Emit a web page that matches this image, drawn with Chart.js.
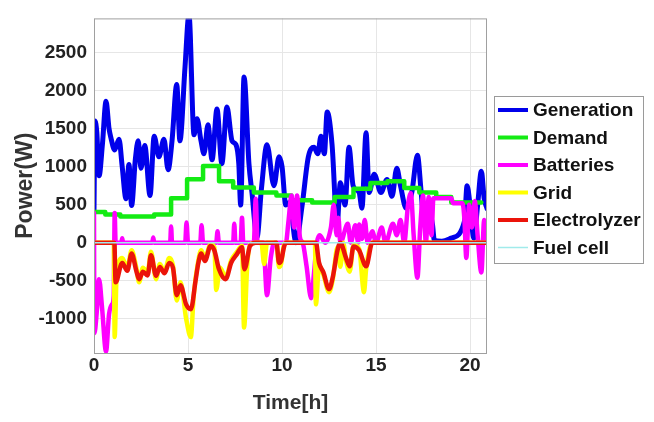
<!DOCTYPE html>
<html lang="en">
<head>
    <meta charset="UTF-8">
    <title>Power(W) vs Time[h]</title>
    <script src="https://cdn.jsdelivr.net/npm/chart.js@4.4.1/dist/chart.umd.min.js"></script>
    <style>
        body {
            margin: 0;
            background-color: white;
        }
        #chartContainer {
            width: 654px;
            height: 422px;
        }
    </style>
</head>
<body>
    <div id="chartContainer">
        <canvas id="powerChart"></canvas>
    </div>

    <script>
        // series values: time [h] and power [W]
        const genT = [0, 0.05, 0.15, 0.27, 0.45, 0.64, 0.8, 0.9, 1.1, 1.33, 1.5, 1.7, 1.86, 2.0, 2.2, 2.35, 2.5, 2.7, 2.98, 3.2, 3.45, 3.72, 3.94, 4.15, 4.4, 4.57, 4.84, 5.05, 5.32, 5.48, 5.69, 5.85, 6.06, 6.28, 6.54, 6.8, 7.07, 7.34, 7.55, 7.7, 7.8, 7.98, 8.24, 8.4, 8.67, 8.9, 9.2, 9.57, 9.84, 10.0, 10.2, 10.4, 10.74, 11.07, 11.4, 11.7, 11.9, 12.07, 12.25, 12.4, 12.66, 12.93, 13.1, 13.35, 13.56, 13.78, 14.1, 14.25, 14.47, 14.63, 14.9, 15.26, 15.58, 15.85, 16.1, 16.3, 16.6, 16.9, 17.2, 17.4, 17.55, 17.75, 18.0, 18.1, 18.5, 19.0, 19.7, 19.84, 20.0, 20.2, 20.4, 20.6, 20.75, 20.9];
        const genW = [420, 1600, 1450, 880, 1300, 1860, 1500, 1380, 1220, 1360, 1000, 580, 1030, 490, 1100, 1340, 980, 1280, 620, 1400, 1130, 1360, 960, 1340, 2080, 1340, 2310, 3000, 1420, 1630, 1340, 1170, 1550, 1090, 1760, 1040, 1785, 1340, 1290, 1040, 495, 2180, 1040, 660, 75, 700, 1290, 750, 1130, 1000, 495, 530, 0, 495, 1130, 1255, 1170, 1400, 1170, 1720, 1290, 240, 790, 495, 1255, 750, 660, 455, 1445, 660, 900, 660, 830, 610, 980, 750, 455, 660, 1150, 660, 280, 450, 240, 30, 20, 60, 280, 750, 490, 60, 490, 940, 580, 450];

        const demT = [0, 0.6, 1.4, 3.2, 4.1, 4.95, 5.8, 6.65, 7.4, 8.5, 9.7, 10.5, 11.6, 12.8, 13.8, 14.7, 15.6, 16.5, 17.3, 18.2, 19.0, 20.6];
        const demW = [405, 370, 345, 370, 585, 835, 1010, 810, 725, 660, 620, 560, 530, 600, 710, 785, 810, 720, 660, 600, 530, 530];

        const batT = [0, 0.02, 0.15, 0.27, 0.43, 0.64, 0.8, 0.96, 1.05, 1.1, 1.15, 1.45, 1.5, 1.55, 3.1, 3.15, 3.2, 4.05, 4.1, 4.15, 4.85, 4.92, 5.0, 5.65, 5.72, 5.8, 6.5, 6.57, 6.64, 7.4, 7.46, 7.52, 7.8, 7.87, 7.94, 8.5, 8.6, 8.7, 9.0, 9.2, 9.4, 9.6, 10.2, 10.35, 10.5, 10.65, 10.8, 10.95, 11.1, 11.3, 11.55, 11.7, 11.85, 12.0, 12.3, 12.6, 12.75, 12.9, 13.0, 13.1, 13.5, 13.65, 13.9, 14.05, 14.1, 14.25, 14.4, 14.55, 14.8, 15.0, 15.3, 15.5, 15.9, 16.1, 16.3, 16.5, 16.7, 16.85, 17.0, 17.2, 17.35, 17.5, 17.65, 17.8, 17.95, 18.05, 19.0, 19.1, 19.6, 19.7, 19.8, 19.95, 20.1, 20.25, 20.4, 20.6, 20.75, 20.9];
        const batW = [390, -1190, -900, -480, -860, -1430, -940, -810, -700, 390, 0, 0, 60, 0, 0, 70, 0, 0, 215, 0, 0, 265, 0, 0, 230, 0, 0, 150, 0, 0, 250, 0, 0, 330, 0, 0, 580, 0, 0, -690, -200, 0, 0, 300, 620, 200, 620, 75, 0, -300, -730, -400, 0, 100, 0, 200, 500, 100, 330, 0, 250, 0, 230, 0, 240, 50, 300, 0, 150, 0, 200, 0, 250, 100, 300, 0, 500, 650, 100, -460, 200, 620, 0, 600, 100, 585, 585, 520, 520, 300, -200, 500, 200, 550, 100, -390, 300, 0];

        const gridT = [0, 1.05, 1.1, 1.2, 1.5, 1.77, 2.0, 2.25, 2.4, 2.6, 2.85, 3.03, 3.3, 3.5, 3.75, 4.0, 4.2, 4.4, 4.6, 4.9, 5.15, 5.3, 5.55, 5.7, 5.9, 6.2, 6.4, 6.5, 6.7, 7.0, 7.3, 7.6, 7.87, 7.98, 8.15, 8.3, 8.6, 8.9, 9.05, 9.2, 9.7, 9.84, 9.95, 10.1, 10.2, 11.75, 11.8, 11.97, 12.2, 12.5, 12.7, 12.95, 13.1, 13.25, 13.4, 13.6, 13.8, 14.1, 14.36, 14.47, 14.8, 20.9];
        const gridW = [0, 0, -1240, -450, -200, -330, -100, -330, -520, -330, -400, -120, -480, -280, -380, -200, -300, -760, -520, -1000, -1240, -700, -230, -100, -200, -20, -60, -620, -330, -450, -230, -120, -40, -1115, -300, -20, 0, 0, -280, 0, 0, -320, -280, -30, 0, 0, -810, -300, -420, -650, -480, -60, -315, 0, -230, -380, -30, -80, -650, -350, 0, 0];

        const elecT = [0, 1.08, 1.15, 1.5, 1.77, 2.0, 2.25, 2.4, 2.6, 2.85, 3.03, 3.3, 3.5, 3.75, 4.0, 4.2, 4.4, 4.6, 4.9, 5.15, 5.4, 5.55, 5.7, 5.9, 6.2, 6.4, 6.65, 7.0, 7.3, 7.6, 7.87, 8.0, 8.3, 8.6, 9.7, 9.84, 9.95, 10.1, 10.2, 11.8, 11.97, 12.2, 12.5, 12.7, 12.95, 13.1, 13.4, 13.6, 13.8, 14.1, 14.47, 14.8, 20.9];
        const elecW = [0, 0, -520, -265, -370, -140, -370, -480, -380, -430, -165, -435, -320, -400, -265, -330, -690, -560, -810, -875, -500, -265, -140, -240, -40, -100, -350, -480, -260, -150, -60, -350, -40, 0, 0, -265, -240, -60, 0, 0, -265, -390, -610, -450, -100, 0, -200, -310, -50, -100, -310, 0, 0];

        const fuelT = [0, 20.9];
        const fuelW = [0, 0];

        const xTicks = [0, 5, 10, 15, 20];
        const yTicks = [-1000, -500, 0, 500, 1000, 1500, 2000, 2500];

        const labels = ['Generation', 'Demand', 'Batteries', 'Grid', 'Electrolyzer', 'Fuel cell'];
        const colors = ['rgb(0,0,235)', 'rgb(20,235,20)', 'rgb(255,0,255)', 'rgb(255,255,0)', 'rgb(235,20,10)', 'rgb(160,235,235)'];

        function pts(ts, ws) {
            return ts.map((t, i) => ({ x: t, y: ws[i] }));
        }

        const fontFam = "'Liberation Sans', Arial, sans-serif";

        // MATLAB style box round the axes and a boxed legend on the right
        const frameAndLegend = {
            id: 'frameAndLegend',
            afterDraw(chart) {
                const ctx = chart.ctx;
                const a = chart.chartArea;
                ctx.save();
                ctx.strokeStyle = '#a0a0a0';
                ctx.lineWidth = 1;
                ctx.strokeRect(a.left + 0.5, a.top + 0.5, a.right - a.left - 1, a.bottom - a.top);

                ctx.strokeStyle = '#9a9a9a';
                ctx.strokeRect(494.5, 96.5, 149, 167);
                ctx.font = 'bold 19px ' + fontFam;
                ctx.textBaseline = 'middle';
                ctx.textAlign = 'left';
                labels.forEach((lab, i) => {
                    const y = 110 + i * 27.5;
                    ctx.strokeStyle = colors[i];
                    ctx.lineWidth = i === 5 ? 1.5 : 4;
                    ctx.beginPath();
                    ctx.moveTo(498, y);
                    ctx.lineTo(528, y);
                    ctx.stroke();
                    ctx.fillStyle = '#111';
                    ctx.fillText(lab, 533, y + 1);
                });
                ctx.restore();
            }
        };

        const series = [
            [genT, genW, 5, false],
            [demT, demW, 4.5, true],
            [batT, batW, 4.5, false],
            [gridT, gridW, 4.5, false],
            [elecT, elecW, 4.5, false],
            [fuelT, fuelW, 1.5, false]
        ];

        const ctx = document.getElementById('powerChart').getContext('2d');
        new Chart(ctx, {
            type: 'line',
            data: {
                datasets: series.map((s, i) => ({
                    label: labels[i],
                    data: pts(s[0], s[1]),
                    borderColor: colors[i],
                    backgroundColor: colors[i],
                    borderWidth: s[2],
                    stepped: s[3],
                    tension: s[3] ? 0 : 0.3,
                    cubicInterpolationMode: 'monotone',
                    pointRadius: 0,
                    borderJoinStyle: 'round',
                    borderCapStyle: 'round',
                    order: 6 - i
                }))
            },
            options: {
                responsive: true,
                maintainAspectRatio: false,
                animation: false,
                layout: {
                    padding: { top: 6, right: 167, left: 0, bottom: 0 }
                },
                plugins: {
                    legend: { display: false },
                    tooltip: { enabled: false }
                },
                scales: {
                    x: {
                        type: 'linear',
                        min: 0,
                        max: 20.9,
                        afterBuildTicks: (scale) => {
                            scale.ticks = xTicks.map(v => ({ value: v }));
                        },
                        afterFit: (scale) => { scale.height = 69; },
                        grid: { color: '#e6e6e6', drawTicks: false },
                        border: { display: false },
                        ticks: {
                            padding: 1,
                            color: '#222',
                            callback: (v) => String(v),
                            font: { family: fontFam, size: 19, weight: 'bold' }
                        },
                        title: {
                            display: true,
                            text: 'Time[h]',
                            color: '#333',
                            padding: { top: 0, bottom: 6 },
                            font: { family: fontFam, size: 21, weight: 'bold' }
                        }
                    },
                    y: {
                        min: -1450,
                        max: 2950,
                        afterBuildTicks: (scale) => {
                            scale.ticks = yTicks.map(v => ({ value: v }));
                        },
                        afterFit: (scale) => { scale.width = 94; },
                        grid: { color: '#e6e6e6', drawTicks: false },
                        border: { display: false },
                        ticks: {
                            padding: 7,
                            color: '#222',
                            callback: (v) => String(v),
                            font: { family: fontFam, size: 19, weight: 'bold' }
                        },
                        title: {
                            display: true,
                            text: 'Power(W)',
                            color: '#333',
                            padding: { top: 12, bottom: 0 },
                            font: { family: fontFam, size: 23, weight: 'bold' }
                        }
                    }
                }
            },
            plugins: [frameAndLegend]
        });
    </script>
</body>
</html>
